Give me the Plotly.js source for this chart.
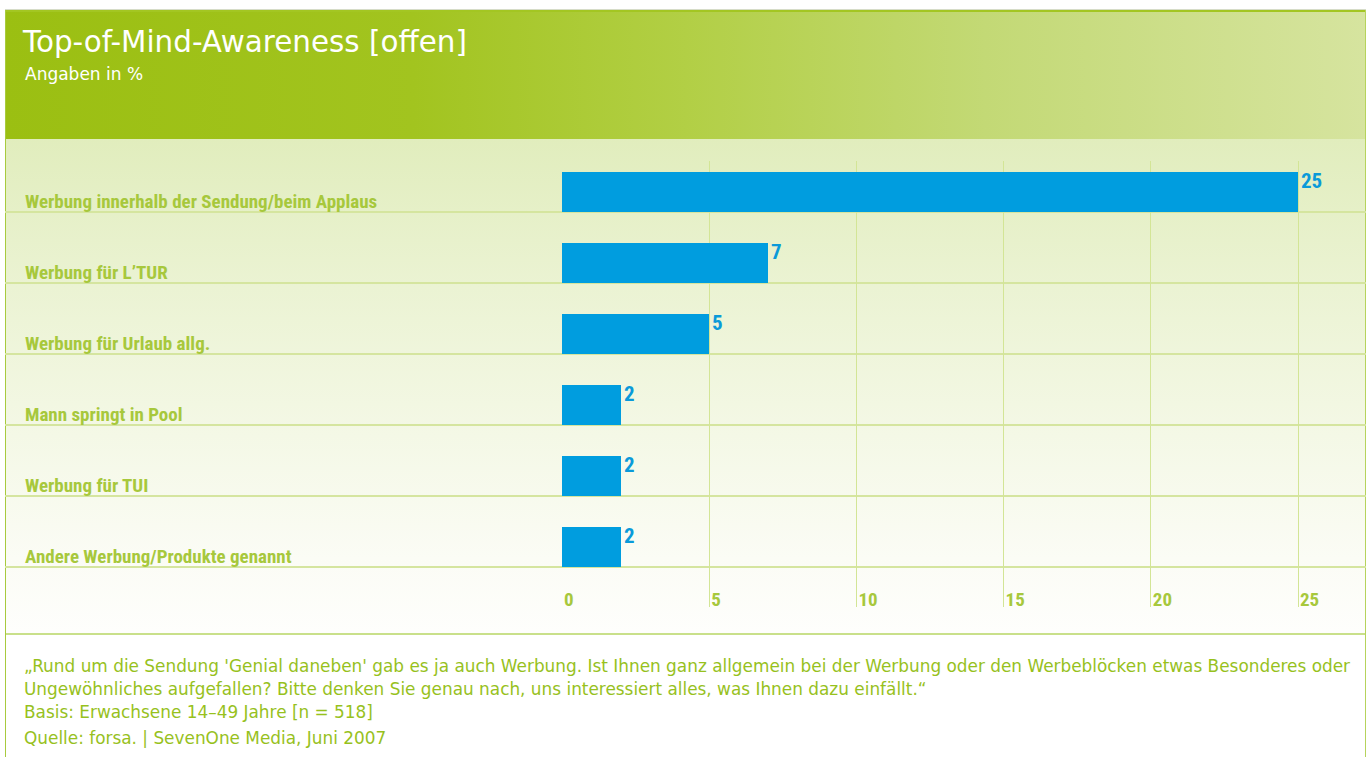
<!DOCTYPE html>
<html>
<head>
<meta charset="utf-8">
<script src="https://cdn.plot.ly/plotly-3.0.1.min.js"></script>
<style>
html,body{margin:0;padding:0;width:1370px;height:757px;overflow:hidden;background:#ffffff}
#topline{position:absolute;left:5px;top:9px;width:1361px;height:1px;background:#d6dcc8}
#header{position:absolute;left:5px;top:10px;width:1361px;height:129px;box-sizing:border-box;border-top:2px solid #a3c622;
  background:linear-gradient(to right,#9bbf12 0%,#a2c41f 30%,#b2cf45 50%,#c3d975 72%,#d6e49f 100%)}
#chartbg{position:absolute;left:5px;top:139px;width:1361px;height:494px;
  background:linear-gradient(to bottom,#e1edbd 0%,#ebf3d3 30%,#f4f8e6 60%,#fbfcf5 85%,#fefefc 100%)}
#footer{position:absolute;left:5px;top:633px;width:1361px;height:124px;box-sizing:border-box;border-top:2px solid #c9e08a;background:#ffffff}
#lborder{position:absolute;left:5px;top:10px;width:1px;height:747px;background:#a8ca3e}
#rborder{position:absolute;left:1365px;top:10px;width:1px;height:747px;background:#b6d35c}
#chart{position:absolute;left:0;top:0;width:1370px;height:757px}
</style>
</head>
<body>
<div id="topline"></div>
<div id="header"></div>
<div id="chartbg"></div>
<div id="footer"></div>
<div id="lborder"></div>
<div id="rborder"></div>
<div id="chart"></div>
<script>
// ---- data ----
const categories = [
  "Werbung innerhalb der Sendung/beim Applaus",
  "Werbung für L’TUR",
  "Werbung für Urlaub allg.",
  "Mann springt in Pool",
  "Werbung für TUI",
  "Andere Werbung/Produkte genannt"
];
const values = [25, 7, 5, 2, 2, 2];
const xTicks = [0, 5, 10, 15, 20, 25];
const titleText = "Top-of-Mind-Awareness [offen]";
const subtitleText = "Angaben in %";
const footerLines = [
  "„Rund um die Sendung 'Genial daneben' gab es ja auch Werbung. Ist Ihnen ganz allgemein bei der Werbung oder den Werbeblöcken etwas Besonderes oder",
  "Ungewöhnliches aufgefallen? Bitte denken Sie genau nach, uns interessiert alles, was Ihnen dazu einfällt.“",
  "Basis: Erwachsene 14–49 Jahre [n = 518]",
  "Quelle: forsa. | SevenOne Media, Juni 2007"
];

// ---- layout helpers ----
const W = 1370, H = 757;
const M = {l: 562, r: 4, t: 161, b: 150};
const plotW = W - M.l - M.r, plotH = H - M.t - M.b;
const px2x = px => (px - M.l) / plotW;
const py2y = py => (H - M.b - py) / plotH;

const narrow = "'Roboto Condensed', 'Liberation Sans Narrow', 'DejaVu Sans Condensed', sans-serif";
const sans = "'DejaVu Sans', 'Open Sans', sans-serif";
const labelGreen = "#a7c83c";
const textGreen = "#97c11d";
const barBlue = "#009ddf";

const barWidth = 0.563;
const barOffset = 0.5 - barWidth;

const trace = {
  type: "bar",
  orientation: "h",
  y: categories,
  x: values,
  width: barWidth,
  offset: barOffset,
  marker: {color: barBlue, line: {width: 0}},
  hoverinfo: "x+y"
};

const shapes = categories.map((c, i) => ({
  type: "line", layer: "below",
  xref: "paper", yref: "y",
  x0: px2x(5), x1: px2x(1366),
  y0: i + 0.5, y1: i + 0.5,
  line: {color: "#d5e59f", width: 2}
}));

const annotations = [];
categories.forEach((c, i) => {
  annotations.push({
    xref: "paper", yref: "y", x: px2x(23), y: i + 0.5,
    xanchor: "left", yanchor: "bottom", yshift: -3,
    text: c, showarrow: false,
    font: {family: narrow, size: 19, color: labelGreen, weight: 700}
  });
  annotations.push({
    xref: "x", yref: "y", x: values[i], y: i + barOffset,
    xanchor: "left", yanchor: "top", xshift: 1, yshift: 5,
    text: String(values[i]), showarrow: false,
    font: {family: narrow, size: 21, color: "#0a9ad9", weight: 700}
  });
});
annotations.push({
  xref: "paper", yref: "paper", x: px2x(23), y: py2y(74),
  xanchor: "left", yanchor: "middle", text: subtitleText, showarrow: false,
  font: {family: sans, size: 17, color: "#ffffff"}
});
const footerY = [666, 689, 712, 738];
footerLines.forEach((t, i) => {
  annotations.push({
    xref: "paper", yref: "paper", x: px2x(22), y: py2y(footerY[i]),
    xanchor: "left", yanchor: "middle", text: t, showarrow: false,
    font: {family: sans, size: 16.9, color: textGreen}
  });
});

const layout = {
  width: W, height: H,
  margin: M,
  paper_bgcolor: "rgba(0,0,0,0)",
  plot_bgcolor: "rgba(0,0,0,0)",
  showlegend: false,
  title: {
    text: titleText,
    xref: "container", yref: "container",
    x: 23 / W, xanchor: "left",
    y: 1 - 42 / H, yanchor: "middle",
    font: {family: sans, size: 29.4, color: "#ffffff"}
  },
  xaxis: {
    range: [0, plotW / (736 / 25)],
    tickvals: xTicks,
    ticktext: xTicks.map(String),
    showgrid: true, gridcolor: "#d3e596", gridwidth: 1,
    zeroline: false, showline: false, ticks: "",
    ticklabelposition: "inside right",
    ticklabelstandoff: -9,
    ticklabelshift: 2,
    tickfont: {family: narrow, size: 19, color: labelGreen, weight: 700},
    fixedrange: true
  },
  yaxis: {
    type: "category",
    categoryorder: "array", categoryarray: categories,
    range: [(607 - 141) / 71 - 0.5, (161 - 141) / 71 - 0.5],
    showticklabels: false, showgrid: false, zeroline: false, showline: false, ticks: "",
    fixedrange: true
  },
  shapes: shapes,
  annotations: annotations,
  bargap: 0
};

Plotly.newPlot("chart", [trace], layout, {displayModeBar: false, staticPlot: true});
</script>
</body>
</html>
